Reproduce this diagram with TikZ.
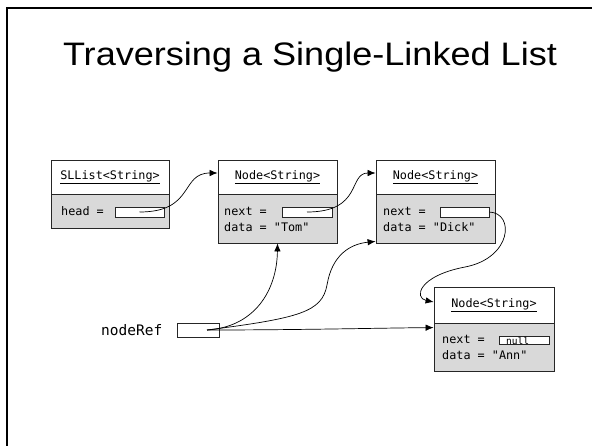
\documentclass[tikz,border=0pt]{standalone}
\usepackage{fontspec}
\setmainfont{Liberation Sans}
\setmonofont{DejaVu Sans Mono}
\usetikzlibrary{arrows.meta,shadows,calc}
\begin{document}
\begin{tikzpicture}[x=1pt,y=-1pt,
  boxline/.style={draw=black!85, line width=0.8pt},
  hdr/.style={boxline, fill=white, minimum width=#1, minimum height=34pt, inner sep=0pt, font=\ttfamily\fontsize{11.8}{13}\selectfont},
  bodybox/.style={boxline, fill=black!15, minimum width=#1, inner sep=0pt},
  field/.style={draw=black!85, line width=0.6pt, fill=white, inner sep=0pt, minimum height=10pt},
  lbl/.style={anchor=base west, inner sep=0pt, font=\ttfamily\fontsize{11.8}{13}\selectfont},
  ptr/.style={line width=0.7pt, -{Latex[length=8pt,width=6.5pt]}},
  ttl/.style={anchor=base, inner sep=0pt, font=\fontsize{32.5}{38}\selectfont}
]
\useasboundingbox (0,0) rectangle (592,445);
\draw[line width=2pt] (7,446) -- (7,8) -- (593,8);

\node[ttl] (title) at (310,65) {\scalebox{1.11}[1]{Traversing a Single-Linked List}};

% SLList
\node[bodybox=118pt, minimum height=34pt, drop shadow={shadow xshift=1pt, shadow yshift=-1pt, fill=black!20}] (slb) at (110,211) {};
\node[hdr=118pt] (sl) at (110,177) {\underline{SLList<String>}};
\node[lbl] (slt) at (61,215) {head =};
\node[field, minimum width=49pt] (slf) at (139.5,212) {};

% Tom
\node[bodybox=119pt, minimum height=49pt, drop shadow={shadow xshift=1pt, shadow yshift=-1pt, fill=black!20}] (tomb) at (277.5,218.5) {};
\node[hdr=119pt] (tom) at (277.5,177) {\underline{Node<String>}};
\node[lbl] (tomt1) at (224,215) {next =};
\node[lbl] (tomt2) at (224,231) {data = "Tom"};
\node[field, minimum width=50pt] (tomf) at (307,212) {};

% Dick
\node[bodybox=119pt, minimum height=49pt, drop shadow={shadow xshift=1pt, shadow yshift=-1pt, fill=black!20}] (dickb) at (435.5,218.5) {};
\node[hdr=119pt] (dick) at (435.5,177) {\underline{Node<String>}};
\node[lbl] (dickt1) at (383,215) {next =};
\node[lbl] (dickt2) at (383,231) {data = "Dick"};
\node[field, minimum width=49pt] (dickf) at (464.5,212) {};

% Ann
\node[bodybox=120pt, minimum height=48pt, drop shadow={shadow xshift=1pt, shadow yshift=-1pt, fill=black!20}] (annb) at (494,347) {};
\node[hdr=120pt, minimum height=36pt] (ann) at (494,305) {\underline{Node<String>}};
\node[lbl] (annt1) at (442,343) {next =};
\node[lbl] (annt2) at (442,359) {data = "Ann"};
\node[field, minimum width=50pt, minimum height=8pt] (annf) at (524,340) {};
\node[anchor=base west, inner sep=0pt, font=\ttfamily\fontsize{9.5}{11}\selectfont] (null) at (506,344) {null};

% nodeRef
\node[anchor=base west, inner sep=0pt, font=\ttfamily\fontsize{14.5}{16}\selectfont] (refl) at (101,335) {nodeRef};
\node[field, minimum width=42pt, minimum height=14pt, fill=white] (ref) at (198,330) {};
\coordinate (refs) at (207,330);

% pointers
\draw[ptr] (slf.center) .. controls (195,212) and (180,173) .. ([yshift=4pt]tom.west);
\draw[ptr] (tomf.center) .. controls (363,212) and (348,173) .. ([yshift=4pt]dick.west);
\draw[ptr] (dickf.east) .. controls (515,213) and (512,258) .. (465,267) .. controls (418,276) and (414,298) .. ([yshift=3pt]ann.west);
\draw[ptr] (refs) .. controls (255,327) and (277,290) .. (tomb.south);
\draw[ptr] (refs) .. controls (300,318) and (322,312) .. (327,285) .. controls (332,255) and (350,244) .. ([yshift=2pt]dickb.south west);
\draw[ptr] (refs) .. controls (300,330) and (380,328) .. ([yshift=-5pt]annb.north west);
\end{tikzpicture}
\end{document}
